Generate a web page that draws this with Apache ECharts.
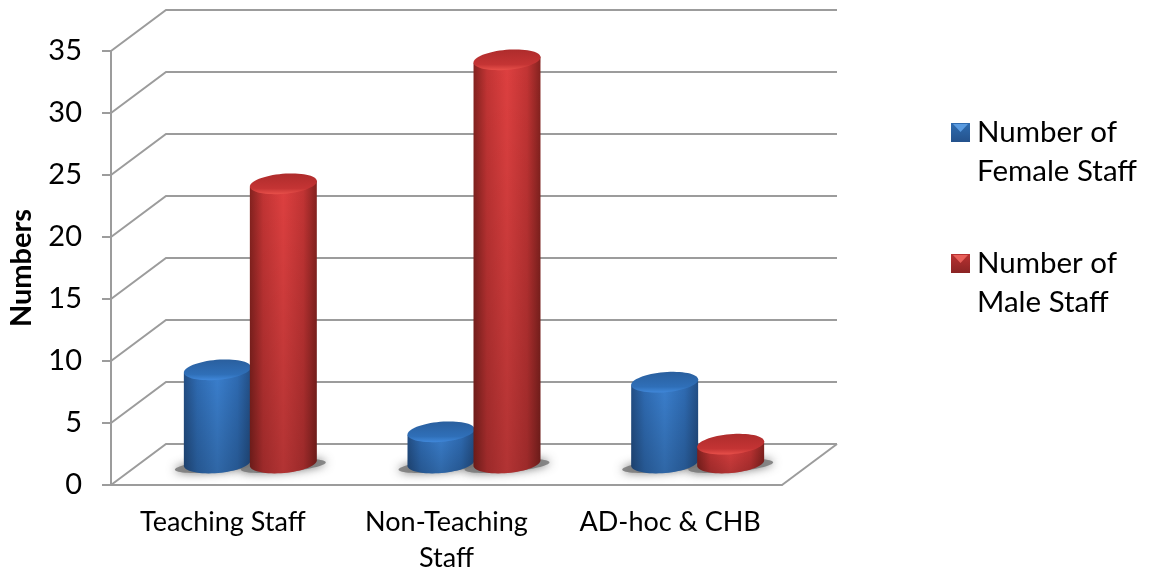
<!DOCTYPE html>
<html><head><meta charset="utf-8">
<script src="https://cdn.jsdelivr.net/npm/echarts@6/dist/echarts.min.js"></script>
<style>html,body{margin:0;padding:0;background:#fff}#c{width:1152px;height:572px}</style>
</head><body><div id="c"></div>
<script>
const categories = ['Teaching Staff', 'Non-Teaching\nStaff', 'AD-hoc & CHB'];
const femaleStaff = [8, 3, 7];
const maleStaff = [23, 33, 2];
const yTicks = [0, 5, 10, 15, 20, 25, 30, 35];
const femaleName = 'Number of Female Staff';
const maleName = 'Number of Male Staff';

const FONT = 'Lato';
const GRID_C = '#9c9c9c';
const DX = 55, DY = -41;          // depth of the 3D box
const MID = 27.5;                 // cylinders stand at mid depth
const OFFSET = 33, RX = 33.6, RY = 10, TILT = -5 * Math.PI / 180;
const TOP_OFF = -16, BOT_OFF = -22;

function ell(cx, cy, t, rx, ry) {
  rx = rx || RX; ry = ry || RY;
  const c = Math.cos(t) * rx, s = Math.sin(t) * ry;
  return [cx + c * Math.cos(TILT) - s * Math.sin(TILT), cy + c * Math.sin(TILT) + s * Math.cos(TILT)];
}
function ring(cx, cy, rx, ry) {
  const p = [];
  for (let i = 0; i < 64; i++) p.push(ell(cx, cy, i / 64 * 2 * Math.PI, rx, ry));
  return p;
}
function lin(x0, y0, x1, y1, stops) {
  return new echarts.graphic.LinearGradient(x0, y0, x1, y1, stops.map(s => ({offset: s[0], color: s[1]})));
}
const palettes = {
  f: {edge: '#234f86', mid: '#3b80cf', quarter: '#2f6cb4', topA: '#2a5f9e', topB: '#2f6fb8', rim: '#4088da'},
  m: {edge: '#84221f', mid: '#de4040', quarter: '#c23434', topA: '#ae2c2c', topB: '#c43434', rim: '#e8504a'}
};
function cylinder(pal, sign) {
  return function (params, api) {
    const p = api.coord([api.value(0), api.value(1)]);
    const zero = api.coord([api.value(0), 0]);
    const cx = p[0] + MID + sign * OFFSET;
    const topY = p[1] + TOP_OFF, botY = zero[1] + BOT_OFF;
    const body = [ell(cx, topY, Math.PI), ell(cx, topY, 0)];
    for (let i = 0; i <= 32; i++) body.push(ell(cx, botY, i / 32 * Math.PI));
    return {
      type: 'group',
      children: [
        {type: 'polygon', shape: {points: body}, style: {
          fill: lin(0, 0, 1, 0, [[0, pal.edge], [0.2, pal.quarter], [0.5, pal.mid], [0.8, pal.quarter], [1, pal.edge]])}},
        {type: 'polygon', shape: {points: body}, style: {
          fill: lin(0, 0, 0, 1, [[0, 'rgba(0,0,0,0)'], [1, 'rgba(0,0,0,0.2)']])}},
        {type: 'polygon', shape: {points: ring(cx, topY)}, style: {
          fill: lin(0, 0, 0, 1, [[0, pal.topA], [0.72, pal.topB], [1, pal.rim]])}}
      ]
    };
  };
}
function shadow(sign) {
  return function (params, api) {
    const zero = api.coord([api.value(0), 0]);
    const cx = zero[0] + MID + sign * OFFSET;
    return {type: 'polygon', shape: {points: ring(cx, zero[1] + BOT_OFF + 3, RX + 9, RY - 4)},
      style: {fill: 'rgba(120,120,120,0.85)', shadowBlur: 10, shadowColor: 'rgba(90,90,90,0.95)'}};
  };
}
const option = {
  animation: false,
  backgroundColor: '#fff',
  textStyle: {fontFamily: FONT},
  grid: {left: 111, top: 51, width: 671, height: 434, outerBoundsMode: 'none'},
  xAxis: {type: 'category', data: categories,
    axisLine: {lineStyle: {color: GRID_C, width: 2}},
    axisTick: {show: false},
    axisLabel: {color: '#000', fontFamily: FONT, fontSize: 27, lineHeight: 36, margin: 19, interval: 0}},
  yAxis: {type: 'value', min: 0, max: 35, interval: 5,
    name: 'Numbers', nameLocation: 'middle', nameGap: 75, nameRotate: 90,
    nameTextStyle: {color: '#000', fontFamily: FONT, fontSize: 29, fontWeight: 'bold'},
    axisLine: {show: true, lineStyle: {color: GRID_C, width: 2}},
    axisTick: {show: true, length: 9, lineStyle: {color: GRID_C, width: 2}},
    axisLabel: {color: '#000', fontFamily: FONT, fontSize: 29, margin: 29},
    splitLine: {show: false}},
  legend: {left: 951, top: 74, orient: 'vertical', padding: 0, itemGap: 14, itemWidth: 19, itemHeight: 19, icon: 'rect',
    selectedMode: false,
    formatter: n => '\n' + n.replace('of ', 'of\n'),
    textStyle: {color: '#000', fontFamily: FONT, fontSize: 29.5, lineHeight: 39, padding: [0, 0, 0, 2]},
    data: [
      {name: femaleName, itemStyle: {color: lin(0, 0, 0, 1, [[0, '#2f6cb0'], [1, '#24528c']])}},
      {name: maleName, itemStyle: {color: lin(0, 0, 0, 1, [[0, '#b93232'], [1, '#8a2424']])}}
    ]},
  graphic: [
    {type: 'polygon', shape: {points: [[953, 124], [968, 124], [960.5, 132]]}, style: {fill: '#5a9be0'}, z: 50},
    {type: 'polygon', shape: {points: [[953, 255], [968, 255], [960.5, 263]]}, style: {fill: '#e8605a'}, z: 50}
  ],
  series: [
    {name: 'walls', type: 'custom', silent: true, data: yTicks.map(v => [0, v]), encode: {x: 0, y: 1},
      renderItem: function (params, api) {
        const p = api.coord([0, api.value(1)]);
        const band = api.size([1, 0])[0];
        const left = p[0] - band / 2, right = left + 3 * band;
        const children = [{type: 'polyline', shape: {points: [[left, p[1]], [left + DX, p[1] + DY], [right + DX, p[1] + DY]]},
          style: {stroke: GRID_C, lineWidth: 2, fill: null}}];
        if (api.value(1) === 0) children.push({type: 'line', shape: {x1: right, y1: p[1], x2: right + DX, y2: p[1] + DY},
          style: {stroke: GRID_C, lineWidth: 2}});
        return {type: 'group', children};
      }},
    {name: 'shadowF', type: 'custom', silent: true, data: femaleStaff.map((v, i) => [i, v]), encode: {x: 0, y: 1}, renderItem: shadow(-1)},
    {name: 'shadowM', type: 'custom', silent: true, data: maleStaff.map((v, i) => [i, v]), encode: {x: 0, y: 1}, renderItem: shadow(1)},
    {name: femaleName, type: 'custom', silent: true, itemStyle: {color: '#2f6cb0'}, data: femaleStaff.map((v, i) => [i, v]), encode: {x: 0, y: 1}, renderItem: cylinder(palettes.f, -1)},
    {name: maleName, type: 'custom', silent: true, itemStyle: {color: '#b93232'}, data: maleStaff.map((v, i) => [i, v]), encode: {x: 0, y: 1}, renderItem: cylinder(palettes.m, 1)}
  ]
};
echarts.init(document.getElementById('c')).setOption(option);
</script></body></html>
